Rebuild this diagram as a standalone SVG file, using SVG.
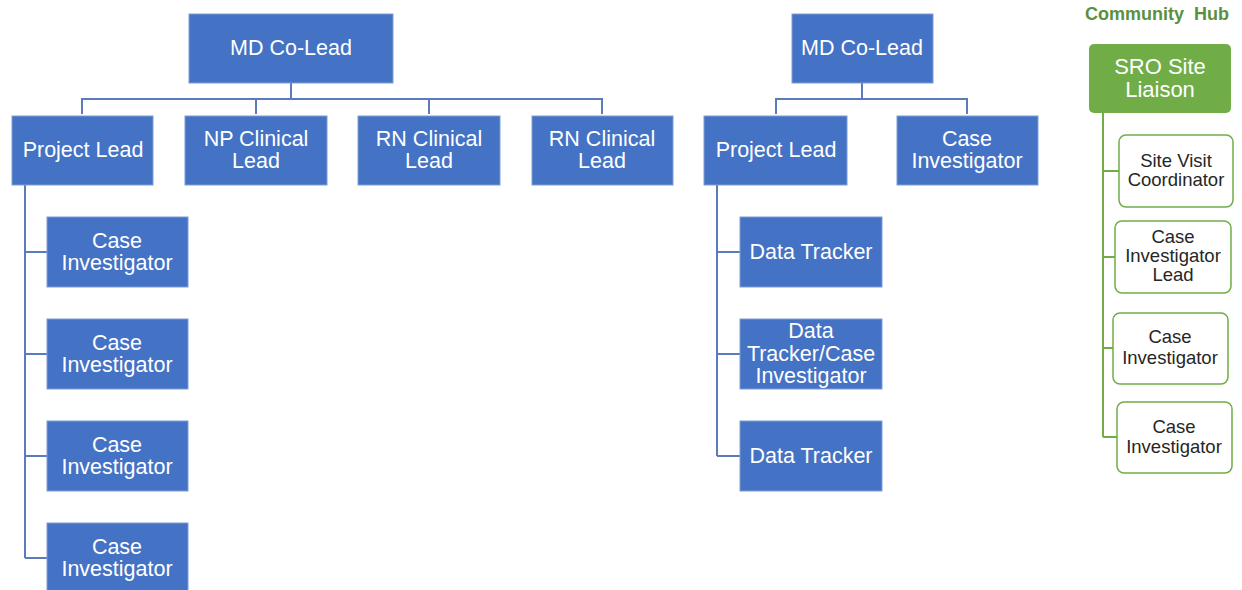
<svg xmlns="http://www.w3.org/2000/svg" width="1242" height="590" viewBox="0 0 1242 590">
<style>
.b{fill:#4472c4;stroke:#7f9dd6;stroke-width:1}
.bt{font-family:"Liberation Sans",Arial,sans-serif;font-size:21.5px;fill:#fff;text-anchor:middle}
.g{fill:#fff;stroke:#70ad47;stroke-width:1.5}
.gt{font-family:"Liberation Sans",Arial,sans-serif;font-size:18.5px;fill:#262626;text-anchor:middle}
.cb{fill:none;stroke:#5b7bbd;stroke-width:2}
.cg{fill:none;stroke:#70ad47;stroke-width:2}
</style>
<rect width="1242" height="590" fill="#fff"/>
<g id="connectors">
<path class="cb" d="M291 83V99M82 114V99H602V114M256 99V114M429 99V114"/>
<path class="cb" d="M25 185V558M25 252H47M25 354H47M25 456H47M25 558H47"/>
<path class="cb" d="M862 83V99M776 114V99H967V114"/>
<path class="cb" d="M717 185V456M717 252H740M717 354H740M717 456H740"/>
<path class="cg" d="M1103 113V437M1103 171H1119M1103 257H1115M1103 348H1113M1103 437H1117"/>
</g>
<text id="hub-title" x="1157" y="20" font-family="'Liberation Sans',Arial,sans-serif" font-size="18px" font-weight="bold" fill="#5a9040" text-anchor="middle" xml:space="preserve">Community  Hub</text>
<g id="md1"><rect class="b" x="189" y="14" width="204" height="69"/><text class="bt" x="291" y="55">MD Co-Lead</text></g>
<g id="pl1"><rect class="b" x="12" y="116" width="141" height="69"/><text class="bt" x="83" y="157">Project Lead</text></g>
<g id="np"><rect class="b" x="185" y="116" width="142" height="69"/><text class="bt" x="256" y="146">NP Clinical</text><text class="bt" x="256" y="168">Lead</text></g>
<g id="rn1"><rect class="b" x="358" y="116" width="142" height="69"/><text class="bt" x="429" y="146">RN Clinical</text><text class="bt" x="429" y="168">Lead</text></g>
<g id="rn2"><rect class="b" x="532" y="116" width="141" height="69"/><text class="bt" x="602" y="146">RN Clinical</text><text class="bt" x="602" y="168">Lead</text></g>
<g id="ci1"><rect class="b" x="47" y="217" width="141" height="70"/><text class="bt" x="117" y="248">Case</text><text class="bt" x="117" y="270">Investigator</text></g>
<g id="ci2"><rect class="b" x="47" y="319" width="141" height="70"/><text class="bt" x="117" y="350">Case</text><text class="bt" x="117" y="372">Investigator</text></g>
<g id="ci3"><rect class="b" x="47" y="421" width="141" height="70"/><text class="bt" x="117" y="452">Case</text><text class="bt" x="117" y="474">Investigator</text></g>
<g id="ci4"><rect class="b" x="47" y="523" width="141" height="70"/><text class="bt" x="117" y="554">Case</text><text class="bt" x="117" y="576">Investigator</text></g>
<g id="md2"><rect class="b" x="792" y="14" width="141" height="69"/><text class="bt" x="862" y="55">MD Co-Lead</text></g>
<g id="pl2"><rect class="b" x="704" y="116" width="143" height="69"/><text class="bt" x="776" y="157">Project Lead</text></g>
<g id="ci5"><rect class="b" x="897" y="116" width="141" height="69"/><text class="bt" x="967" y="146">Case</text><text class="bt" x="967" y="168">Investigator</text></g>
<g id="dt1"><rect class="b" x="740" y="217" width="142" height="70"/><text class="bt" x="811" y="259">Data Tracker</text></g>
<g id="dtci"><rect class="b" x="740" y="319" width="142" height="70"/><text class="bt" x="811" y="338">Data</text><text class="bt" x="811" y="361">Tracker/Case</text><text class="bt" x="811" y="383">Investigator</text></g>
<g id="dt2"><rect class="b" x="740" y="421" width="142" height="70"/><text class="bt" x="811" y="463">Data Tracker</text></g>
<g id="sro"><rect x="1089" y="44" width="142" height="69" rx="5" fill="#70ad47"/><text x="1160" y="74" font-family="'Liberation Sans',Arial,sans-serif" font-size="22px" fill="#fff" text-anchor="middle">SRO Site</text><text x="1160" y="97" font-family="'Liberation Sans',Arial,sans-serif" font-size="22px" fill="#fff" text-anchor="middle">Liaison</text></g>
<g id="svc"><rect class="g" x="1119" y="135" width="114" height="72" rx="7"/><text class="gt" x="1176" y="167">Site Visit</text><text class="gt" x="1176" y="186">Coordinator</text></g>
<g id="cil"><rect class="g" x="1115" y="221" width="116" height="72" rx="7"/><text class="gt" x="1173" y="243">Case</text><text class="gt" x="1173" y="262">Investigator</text><text class="gt" x="1173" y="281">Lead</text></g>
<g id="gci1"><rect class="g" x="1113" y="313" width="115" height="71" rx="7"/><text class="gt" x="1170" y="343">Case</text><text class="gt" x="1170" y="364">Investigator</text></g>
<g id="gci2"><rect class="g" x="1117" y="402" width="115" height="71" rx="7"/><text class="gt" x="1174" y="433">Case</text><text class="gt" x="1174" y="453">Investigator</text></g>
</svg>
